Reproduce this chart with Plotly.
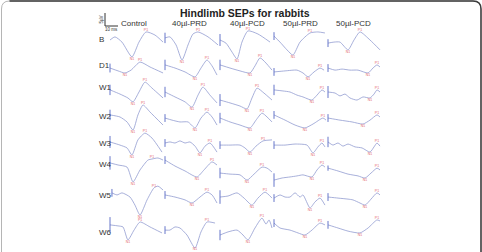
import plotly.graph_objects as go

# ---------------- data (time in ms, amplitude in µV) ----------------
COLUMNS = ["Control", "40µl-PRD", "40µl-PCD", "50µl-PRD", "50µl-PCD"]
ROWS = ["B", "D1", "W1", "W2", "W3", "W4", "W5", "W6"]

CONTROL_T = [
    [0, 3.8, 9.2, 16.9, 22.3, 27.7, 34.6, 40.8],
    [0, 6.2, 11.5, 16.2, 23.1, 30.8, 40.8],
    [0, 7.7, 13.8, 17.7, 22.3, 26.9, 32.3, 40.8],
    [0, 7.7, 13.1, 17.7, 21.5, 25.4, 30.8, 40.8],
    [0, 7.7, 13.1, 16.9, 21.5, 26.9, 32.3, 40],
    [0, 6.2, 13.1, 17.7, 23.1, 29.2, 32.3, 36.9, 40.8],
    [1.5, 5.4, 9.2, 15.4, 19.2, 23.1, 28.5, 33.8, 36.9, 40.8],
    [0, 6.2, 10, 13.8, 18.5, 23.1, 30.8, 40],
]
CONTROL_V = [
    [0, 1.2, -0.8, -6.5, -0.8, 3.1, 1.9, -0.8],
    [-0.4, -1.5, -2.3, -1.2, 1.9, 0, -2.3],
    [0.8, -0.8, -2.3, -3.8, 0, 3.8, 1.5, -2.3],
    [0.8, 0, -1.9, -5, 0.8, 4.6, 1.9, -3.1],
    [0.4, -0.8, -1.9, -4.6, 1.2, 3.8, 1.9, -3.5],
    [0.8, 0, -0.8, -6.5, -1.9, 1.9, 2.3, 2.7, 1.9],
    [1.2, 0.4, 1.2, -0.4, -3.5, -7.3, -1.5, 3.1, 3.8, 2.3],
    [1.2, 0.8, 0.4, -4.6, -0.8, 2.3, 0.4, -1.9],
]
CONTROL_MARKS = [(3, 5), (2, 4), (3, 5), (3, 5), (3, 5), (3, 6), (5, 7), (3, 5)]

PRD40_T = [
    [0, 3.8, 8.5, 13.1, 17.7, 21.5, 25.4, 33.1, 40.8],
    [0, 7.7, 15.4, 23.1, 27.7, 32.3, 36.2, 40],
    [0, 7.7, 15.4, 20.8, 25.4, 29.2, 34.6, 40],
    [0, 5.4, 11.5, 17.7, 23.1, 27.7, 32.3, 36.2, 40],
    [0, 3.8, 7.7, 11.5, 15.4, 19.2, 23.1, 26.9, 30.8, 34.6, 40],
    [0, 7.7, 15.4, 24.6, 30, 36.2, 40],
    [0, 7.7, 15.4, 20.8, 26.9, 32.3, 36.2, 40],
    [0, 3.8, 7.7, 11.5, 16.9, 23.1, 27.7, 32.3, 38.5],
]
PRD40_V = [
    [0.8, 1.2, -1.9, -7.7, -1.9, 2.3, 3.1, 1.2, -1.9],
    [0.8, -0.4, -1.9, -3.8, -0.4, 2.7, 0.4, -3.1],
    [0, -1.9, -3.8, -5.8, -1.2, 1.9, -1.2, -4.2],
    [-0.4, -1.2, -1.9, -1.9, -4.2, -0.4, 1.9, 0, -3.1],
    [0, 0.4, 0, 0.8, 0, 0.4, -1.2, -3.8, -1.2, 0, -3.5],
    [1.9, -0.4, -2.3, -4.6, -1.9, 1.2, 0],
    [0.4, -0.4, -1.5, -2.7, -0.4, 1.5, 0.4, -2.7],
    [-0.8, -0.8, 0.4, 0, -2.7, -7.7, -1.5, 2.3, 1.9],
]
PRD40_MARKS = [(3, 6), (3, 5), (3, 5), (4, 6), (7, 9), (3, 5), (3, 5), (5, 7)]

PCD40_T = [
    [0, 4.6, 9.2, 13.1, 16.9, 21.5, 29.2, 38.5],
    [0, 7.7, 15.4, 23.1, 26.9, 30.8, 35.4, 40],
    [0, 7.7, 15.4, 20.8, 24.6, 28.5, 33.8, 40],
    [0, 7.7, 15.4, 23.1, 27.7, 32.3, 36.2, 40],
    [0, 7.7, 15.4, 19.2, 23.1, 27.7, 33.1, 40],
    [0, 7.7, 15.4, 20.8, 26.2, 32.3, 36.2, 40],
    [0, 6.2, 13.1, 18.5, 24.6, 29.2, 34.6, 40],
    [0, 6.2, 13.1, 17.7, 21.5, 26.9, 32.3, 35.4, 37.7, 40],
]
PCD40_V = [
    [0, -1.2, -4.6, -7.3, -0.8, 3.5, 2.3, -0.8],
    [0.8, -0.4, -1.5, -2.3, 0.4, 3.5, 1.5, -1.2],
    [-3.1, -4.2, -5.4, -6.5, -2.3, 1.5, -0.4, -3.1],
    [-0.4, -1.9, -3.1, -4.2, -1.2, 1.5, 0, -1.9],
    [-0.8, -0.8, -0.8, -1.9, -3.5, -1.2, 0.8, 1.2],
    [-3.1, -3.5, -3.8, -5.8, -3.5, -0.8, -1.2, -2.7],
    [-0.4, 0, 1.2, -0.8, -3.5, -0.8, 1.5, -0.8],
    [-2.7, -1.5, -0.8, -2.7, -4.6, 0, 3.8, 1.5, 3.1, 0],
]
PCD40_MARKS = [(3, 5), (3, 5), (3, 5), (3, 5), (4, 6), (3, 5), (4, 6), (4, 6)]

PRD50_T = [
    [0, 4.6, 10, 14.6, 20, 27.7, 33.8, 39.2],
    [0, 8.5, 17.7, 22.3, 26.2, 30.8, 35.4, 38.5],
    [0, 6.9, 12.3, 17.7, 22.3, 26.2, 29.2, 33.1, 36.9, 39.2],
    [0, 8.5, 16.2, 23.8, 30, 37.7, 40],
    [0, 8.5, 16.2, 25.4, 30, 33.8, 36.9, 39.2],
    [0, 6.2, 12.3, 17.7, 22.3, 29.2, 33.1, 36.9, 39.2],
    [0, 4.6, 8.5, 12.3, 16.2, 20, 22.3, 27.7, 31.5, 35.4, 39.2],
    [0, 4.6, 12.3, 18.5, 23.8, 29.2, 35.4, 39.2],
]
PRD50_V = [
    [1.5, -0.8, -3.8, -5.8, -0.8, 2.7, 3.1, 2.7],
    [-1.9, -1.5, -1.2, -2.3, -3.8, -1.9, -0.4, -1.2],
    [0.8, 0.4, 0, -1.2, -1.9, -2.7, -3.1, -1.2, 0.8, 0],
    [0.8, -1.2, -3.1, -4.2, -2.7, -0.4, -1.2],
    [-0.8, -0.8, -0.4, -0.8, -3.8, -1.5, 0, -1.5],
    [-5.8, -5, -4.6, -4.2, -3.8, -4.6, -1.9, 0, -0.8],
    [-0.8, 0.4, -0.4, -0.4, 1.2, -0.4, 0.4, -4.6, -2.3, -0.8, -3.5],
    [1.9, 0, -0.8, -1.9, -2.7, -0.8, 1.9, 1.2],
]
PRD50_MARKS = [(3, 5), (4, 6), (6, 8), (3, 5), (4, 6), (5, 7), (7, 9), (4, 6)]

PCD50_T = [
    [0, 4.6, 9.2, 15.4, 20, 24.6, 32.3, 40],
    [0, 5.4, 10.8, 16.9, 23.1, 30.8, 34.6, 37.7, 40],
    [0, 5.4, 9.2, 13.1, 16.9, 22.3, 26.9, 32.3, 35.4, 37.7, 40],
    [0, 9.2, 18.5, 26.9, 32.3, 37.7, 40],
    [0, 3.8, 7.7, 11.5, 15.4, 20.8, 26.2, 32.3, 35.4, 37.7, 40],
    [0, 7.7, 15.4, 23.1, 28.5, 33.1, 37.7, 40],
    [0, 7.7, 15.4, 19.2, 24.6, 28.5, 33.1, 37.7, 40],
    [0, 7.7, 15.4, 24.6, 30.8, 37.7, 40],
]
PCD50_V = [
    [-1.2, -0.8, -0.8, -3.8, 0, 3.1, 0, -3.8],
    [-0.4, -1.2, -0.8, -1.2, -1.2, -2.3, -0.4, 0.8, 0],
    [0, -0.4, -1.5, -0.8, -2.3, -3.1, -1.9, -2.3, -0.8, 0.8, 0],
    [-0.4, -1.2, -1.9, -2.7, -1.2, 0.8, 0],
    [0.4, -0.8, 0, -1.2, -0.4, -1.5, -1.9, -3.5, -1.5, 0, -1.2],
    [-1.2, -2.3, -3.5, -4.2, -5, -3.1, -1.2, -1.9],
    [-0.4, -0.8, -1.2, -1.5, -2.7, -3.5, -1.2, 1.2, 0.4],
    [1.2, 0, -1.2, -1.9, 0, 3.1, 2.7],
]
PCD50_MARKS = [(3, 5), (5, 7), (7, 9), (3, 5), (7, 9), (4, 6), (5, 7), (3, 5)]

# stimulus artifact half-height (µV) at trace onset, per column and row
ARTIFACT_UV = [
    [0, 1.7, 2.0, 2.0, 2.3, 2.6, 1.5, 3.0],
    [2.0, 2.0, 2.0, 1.5, 1.5, 1.5, 1.5, 1.5],
    [2.3, 2.0, 2.3, 2.0, 1.5, 2.0, 2.6, 2.0],
    [1.5, 1.5, 2.0, 1.5, 1.5, 2.6, 1.5, 1.5],
    [1.5, 1.5, 2.3, 1.5, 2.0, 1.0, 1.5, 1.5],
]

SCALE_UV = 5
SCALE_MS = 10

# ---------------- layout (pixel geometry) ----------------
W, H = 482, 252
PX_PER_MS = 1.3
PX_PER_UV = 2.6
COL_X0 = [110, 165, 220, 274, 328]
COL_HEAD_X = [134, 189, 247, 300, 353]
ROW_Y0 = [40, 67, 92, 117, 143, 165, 196, 228]
ROW_LABEL_Y = [39, 65, 87, 116, 143, 164, 195, 232]
GAP_N, GAP_P = 2.2, 1.6

TRACE_COLOR = "#8b95cd"
ART_COLOR = "#5567c4"
MARK_COLOR = "#e46a6e"

all_T = [CONTROL_T, PRD40_T, PCD40_T, PRD50_T, PCD50_T]
all_V = [CONTROL_V, PRD40_V, PCD40_V, PRD50_V, PCD50_V]
all_M = [CONTROL_MARKS, PRD40_MARKS, PCD40_MARKS, PRD50_MARKS, PCD50_MARKS]

fig = go.Figure()

mk_x, mk_y, mk_t = [], [], []
for c in range(5):
    for r in range(8):
        ts, vs = all_T[c][r], all_V[c][r]
        xs = [COL_X0[c] + t * PX_PER_MS for t in ts]
        ys = [ROW_Y0[r] - v * PX_PER_UV for v in vs]
        fig.add_trace(go.Scatter(x=xs, y=ys, mode="lines",
                                 line=dict(color=TRACE_COLOR, width=0.75, shape="spline", smoothing=0.6),
                                 hoverinfo="skip", showlegend=False))
        a = ARTIFACT_UV[c][r]
        if a > 0:
            fig.add_trace(go.Scatter(x=[xs[0], xs[0]],
                                     y=[ys[0] - a * PX_PER_UV, ys[0] + a * PX_PER_UV],
                                     mode="lines", line=dict(color=ART_COLOR, width=0.9),
                                     hoverinfo="skip", showlegend=False))
        i_n, i_p = all_M[c][r]
        mk_x += [xs[i_n], xs[i_p]]
        mk_y += [min(ys[i_n] + GAP_N, H - 2.5), ys[i_p] - GAP_P]
        mk_t += ["N1", "P1"]

fig.add_trace(go.Scatter(x=mk_x, y=mk_y, mode="text", text=mk_t,
                         textposition="middle center",
                         textfont=dict(size=3.5, color=MARK_COLOR, family="Liberation Sans"),
                         hoverinfo="skip", showlegend=False))

# scale bar
SB_X, SB_Y = 105, 26
fig.add_trace(go.Scatter(x=[SB_X, SB_X, SB_X + SCALE_MS * PX_PER_MS],
                         y=[SB_Y - SCALE_UV * PX_PER_UV, SB_Y, SB_Y],
                         mode="lines", line=dict(color="#333", width=1),
                         hoverinfo="skip", showlegend=False))

annotations = []
annotations.append(dict(x=245, y=13, text="<b>Hindlimb SEPs for rabbits</b>", showarrow=False,
                        font=dict(size=10.5, color="#222", family="Liberation Sans")))
for name, hx in zip(COLUMNS, COL_HEAD_X):
    annotations.append(dict(x=hx, y=23, text=name, showarrow=False,
                            font=dict(size=8, color="#333", family="Liberation Sans")))
for name, ly in zip(ROWS, ROW_LABEL_Y):
    annotations.append(dict(x=97, y=ly, text=name, showarrow=False, xanchor="left",
                            font=dict(size=8, color="#333", family="Liberation Sans")))
annotations.append(dict(x=101, y=SB_Y - SCALE_UV * PX_PER_UV / 2, text=f"{SCALE_UV}µV",
                        textangle=-90, showarrow=False,
                        font=dict(size=4.5, color="#333", family="Liberation Sans")))
annotations.append(dict(x=SB_X + SCALE_MS * PX_PER_MS / 2, y=SB_Y + 3, text=f"{SCALE_MS} ms",
                        showarrow=False, font=dict(size=4.5, color="#333", family="Liberation Sans")))
for a in annotations:
    a.setdefault("xref", "x")
    a.setdefault("yref", "y")

shapes = [
    dict(type="path", xref="x", yref="y",
         path="M 1.5 260 L 1.5 9 Q 1.5 1 9.5 1 L 473 1 Q 481 1 481 9 L 481 260",
         line=dict(color="#b5b5b5", width=1)),
    dict(type="path", xref="x", yref="y",
         path="M 9.5 1 L 473 1 Q 481 1 481 9 L 481 260",
         line=dict(color="#3c3c3c", width=1.5)),
]

fig.update_layout(
    width=W, height=H, margin=dict(l=0, r=0, t=0, b=0),
    paper_bgcolor="white", plot_bgcolor="white",
    xaxis=dict(range=[0, W], visible=False, fixedrange=True),
    yaxis=dict(range=[H, 0], visible=False, fixedrange=True),
    annotations=annotations, shapes=shapes, showlegend=False,
)

fig.write_html("out.html", config={"displayModeBar": False})
